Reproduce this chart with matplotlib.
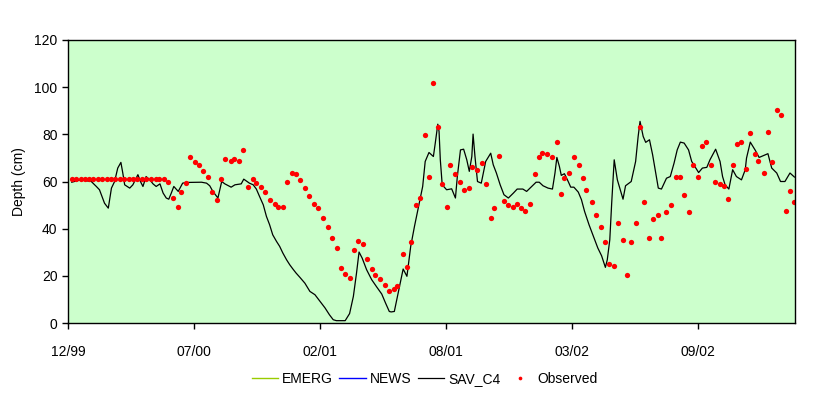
# water depth: SAV_C4 model vs observed, Dec 1999 - Feb 2003
import numpy as np
import matplotlib
matplotlib.use('Agg')
import matplotlib.pyplot as plt
import matplotlib.dates as mdates

plt.rcParams['font.family'] = ['Liberation Sans', 'DejaVu Sans']

start = np.datetime64('1999-12-30')
n_days = 1154
tick_step = 200
tick_labels_fmt = '%m/%y'

# observed depth (days after start, cm)
obs_days = [6, 13, 20, 27, 34, 40, 48, 54, 62, 69, 75, 83, 89, 97, 104, 110, 118, 124,
            132, 139, 145, 153, 159, 167, 174, 180, 188, 194, 202, 208, 215, 223, 229,
            237, 243, 250, 258, 264, 272, 278, 285, 293, 299, 307, 313, 321, 328, 334,
            342, 348, 356, 362, 369, 377, 383, 391, 397,
            404, 412, 419, 427, 433, 439, 447, 454, 461, 468, 474, 482, 488, 496, 503,
            509, 517, 523, 531, 538, 544, 552, 558, 566, 573, 579, 587, 593, 601, 607,
            614, 622, 628, 636, 642, 649, 657, 663, 671, 677, 684, 692, 698, 706, 712,
            719, 726, 733, 741, 747, 753, 761, 768, 776,
            782, 788, 796, 803, 811, 817, 823, 831, 838, 846, 852, 858, 866, 873, 881,
            887, 893, 901, 908, 915, 922, 928, 936, 942, 950, 957, 965, 971, 977, 985,
            992, 1000, 1006, 1012, 1020, 1027, 1035, 1041, 1047, 1055, 1062, 1069, 1076,
            1082, 1090, 1096, 1104, 1111, 1117, 1125, 1131, 1139, 1146, 1152]
obs_depth = [61.2, 61.2, 61.2, 61.2, 61.2, 61.2, 61.2, 61.2, 61.2, 61.2, 61.2, 61.2,
             61.2, 61.2, 61.2, 61.2, 61.2, 61.2, 61.2, 61.2, 61.2, 61.2, 60.0, 53.2,
             49.4, 55.4, 59.2, 70.2, 68.1, 66.8, 64.3, 61.7, 55.4, 52.0, 60.9, 69.4,
             68.5, 69.4, 68.9, 73.2, 57.5, 60.9, 59.2, 57.5, 55.4, 52.0, 50.3, 49.4,
             49.4, 60.0, 63.4, 63.0, 60.5, 57.1, 53.7, 50.3, 48.6,
             44.4, 40.5, 35.9, 31.6, 23.2, 20.6, 18.9, 30.8, 34.6, 33.3, 27.0, 22.7,
             20.2, 18.5, 16.0, 13.4, 14.3, 15.5, 29.1, 23.6, 34.2, 49.9, 53.2, 79.9,
             62.1, 101.6, 83.3, 58.8, 49.4, 67.2, 63.0, 59.6, 56.2, 57.1, 66.0, 64.7,
             67.7, 58.8, 44.4, 48.6, 71.0, 51.6, 49.9, 49.4, 50.3, 48.6, 47.7, 50.3,
             63.0, 70.6, 71.9, 71.5, 70.2, 76.6,
             54.9, 61.3, 63.4, 70.6, 66.8, 61.3, 56.2, 51.1, 45.6, 40.5, 34.2, 24.9,
             24.0, 42.2, 35.0, 20.2, 34.2, 42.2, 83.3, 51.1, 35.9, 43.9, 45.6, 35.9,
             46.9, 49.9, 61.7, 62.1, 54.1, 46.9, 67.2, 62.1, 74.9, 76.6, 67.2, 59.6,
             58.8, 57.9, 52.4, 67.2, 75.7, 76.6, 65.1, 80.4, 71.5, 68.5, 63.8, 80.8,
             68.1, 90.5, 88.0, 47.7, 55.8, 51.1]

# SAV_C4 simulated depth
sav_days = [6, 20, 37, 45, 50, 55, 58, 64, 69, 74, 79, 84, 87, 90, 98, 103, 111, 115,
            119, 124, 130, 135, 140, 146, 151, 156, 160, 164, 168, 175, 182, 188, 212,
            220, 225, 230, 238, 244, 249, 259, 265, 275, 279, 288, 294, 299, 304, 310,
            315, 320, 325, 331, 336, 341, 347, 352, 357, 362, 368,
            376, 384, 392, 400, 408, 415, 421, 426, 440, 447, 453, 458, 462, 467, 474,
            482, 490, 498, 504, 510, 513, 518, 524, 532, 538, 544, 550, 557, 563, 567,
            573, 580, 583, 587, 589, 591, 594, 601, 609, 615, 618, 623, 628, 633, 637,
            641, 643, 646, 650, 656, 663, 671, 675, 680, 686, 692, 699, 707, 713, 722,
            728, 736, 743, 748, 754, 762, 769,
            773, 776, 780, 783, 788, 794, 798, 803, 810, 815, 820, 827, 835, 841, 847,
            853, 856, 860, 863, 867, 872, 881, 885, 894, 901, 905, 908, 913, 917, 923,
            928, 933, 937, 942, 950, 956, 962, 967, 972, 978, 985, 990, 995, 1001, 1007,
            1014, 1019, 1028, 1035, 1039, 1043, 1049, 1055, 1061, 1069, 1075, 1077, 1083,
            1091, 1097, 1104, 1111, 1117, 1125, 1131, 1138, 1146, 1153]
sav_depth = [59.7, 60.7, 60.0, 57.9, 56.5, 53.0, 50.8, 48.7, 57.2, 60.0, 65.7, 68.1,
             63.6, 58.6, 57.2, 58.6, 62.9, 60.0, 57.9, 62.1, 60.7, 59.0, 57.9, 59.0,
             55.1, 53.0, 52.5, 55.1, 57.9, 55.8, 59.3, 59.6, 59.7, 59.3, 58.2, 55.8,
             53.0, 60.0, 59.0, 57.6, 58.6, 59.0, 61.0, 59.3, 58.6, 56.8, 53.7, 50.1,
             45.2, 41.7, 37.4, 34.6, 32.5, 29.7, 26.8, 24.7, 22.9, 21.2, 19.4,
             16.9, 13.4, 12.0, 9.2, 6.4, 3.5, 1.4, 1.0, 1.0, 4.0, 11.3, 21.2, 30.1,
             27.5, 22.6, 18.4, 15.3, 12.3, 8.5, 4.9, 4.7, 4.9, 12.7, 22.9, 19.8, 32.5,
             41.0, 50.1, 57.9, 68.5, 72.3, 70.6, 76.3, 84.3, 81.2, 69.2, 58.6, 56.5,
             56.9, 53.0, 62.1, 73.4, 73.7, 69.2, 64.3, 70.6, 80.1, 70.6, 60.0, 59.3,
             68.5, 72.0, 67.1, 63.6, 58.6, 54.4, 53.0, 55.1, 56.8, 56.8, 55.8, 57.9,
             59.7, 59.7, 58.2, 57.2, 56.8,
             63.6, 70.2, 66.4, 62.6, 63.3, 60.0, 57.6, 57.6, 55.5, 52.3, 47.3, 41.7,
             36.0, 31.8, 28.5, 23.6, 26.8, 35.3, 50.8, 69.2, 60.7, 52.5, 58.2, 60.0,
             68.5, 79.1, 85.5, 79.1, 76.6, 77.7, 71.3, 63.6, 57.2, 56.8, 61.4, 62.1,
             67.8, 73.4, 76.7, 76.3, 73.4, 68.5, 66.4, 63.8, 65.7, 66.0, 69.2, 73.7,
             68.5, 62.1, 58.6, 56.8, 65.0, 62.1, 60.7, 65.0, 69.9, 76.7, 73.2, 70.2,
             71.0, 71.8, 65.7, 63.6, 60.0, 60.0, 63.6, 61.9]

# other model runs (not visible in the plot, only in the legend)
emerg_days, emerg_depth = [], []
news_days, news_depth = [], []


def to_dates(days):
    return start + np.array(days, dtype='timedelta64[D]')


fig = plt.figure(figsize=(8.31, 3.98), dpi=100)
ax = fig.add_axes([0.0818, 0.1884, 0.8749, 0.7111])
ax.set_facecolor('#CCFFCC')

ax.plot(to_dates(emerg_days), emerg_depth, color='#99CC00', lw=1, label='EMERG')
ax.plot(to_dates(news_days), news_depth, color='#0000FF', lw=1, label='NEWS')
ax.plot(to_dates(sav_days), sav_depth, color='black', lw=0.9, label='SAV_C4')
ax.plot(to_dates(obs_days), obs_depth, 'o', color='#FF0000', ms=3.8, mew=0,
        label='Observed')

ax.set_xlim(start, start + np.timedelta64(n_days, 'D'))
ax.set_ylim(0, 120)
ax.set_yticks(range(0, 121, 20))
ax.set_xticks(to_dates(range(0, n_days, tick_step)))
ax.xaxis.set_major_formatter(mdates.DateFormatter(tick_labels_fmt))
ax.tick_params(direction='out', length=4, width=1, labelsize=10, colors='black')
ax.tick_params(axis='x', pad=12)
for s in ax.spines.values():
    s.set_linewidth(1)
    s.set_color('black')

ax.set_ylabel('Depth (cm)', fontsize=10, labelpad=6)

leg = fig.legend(loc='center', bbox_to_anchor=(0.511, 0.048), ncol=4, frameon=False,
                 fontsize=10, handlelength=1.9, handletextpad=0.3, columnspacing=0.45,
                 markerscale=0.7)

fig.savefig('out.png', dpi=100)
